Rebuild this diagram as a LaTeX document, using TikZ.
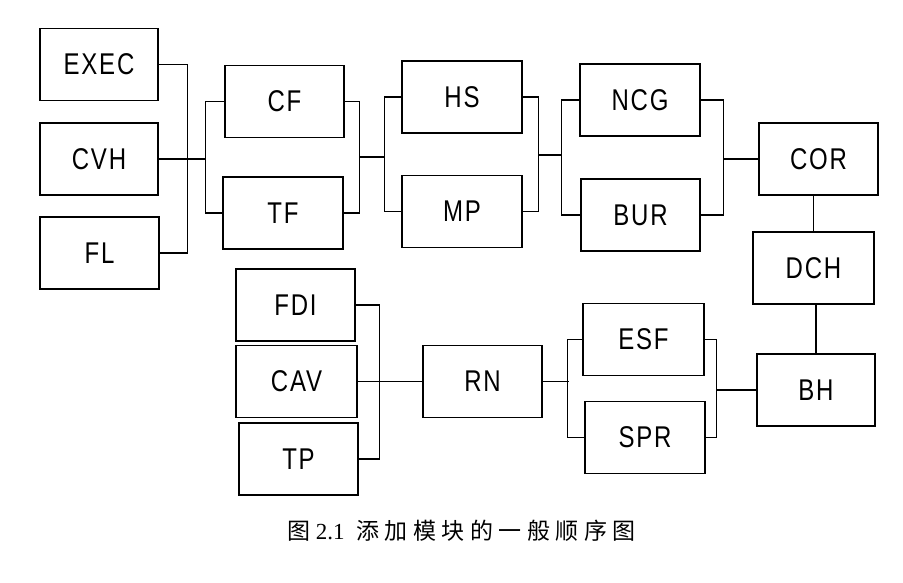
\documentclass[tikz,border=0pt]{standalone}
\usepackage{fontspec}
\usetikzlibrary{calc}
\newfontfamily\boxfont[FakeStretch=0.8,LetterSpace=6]{Liberation Sans}
\newfontfamily\cjk[LetterSpace=24]{Noto Sans CJK SC}
\newfontfamily\capnum{Liberation Serif}
\begin{document}
\begin{tikzpicture}[x=1pt,y=-1pt,
  blk/.style={draw,line width=1.1pt,minimum width=#1,minimum height=72pt,inner sep=0pt,
    font=\boxfont\fontsize{30}{30}\selectfont},
  blk/.default=120pt,
  wire/.style={line width=1.1pt}]
\useasboundingbox (0,0) rectangle (903,582);
% top row
\node[blk=118pt] (EXEC) at (99,64.5) {EXEC};
\node[blk=118pt] (CVH) at (99,159) {CVH};
\node[blk=119pt] (FL) at (99.5,253) {FL};
\node[blk=119pt] (CF) at (284.5,101.5) {CF};
\node[blk] (TF) at (283,213) {TF};
\node[blk] (HS) at (462,97) {HS};
\node[blk] (MP) at (462,211.5) {MP};
\node[blk] (NCG) at (640,100) {NCG};
\node[blk=119pt] (BUR) at (640.5,215) {BUR};
\node[blk=119pt] (COR) at (818.5,159) {COR};
\node[blk=121pt] (DCH) at (813.5,268) {DCH};
\node[blk=118pt] (BH) at (816,390) {BH};
% bottom row
\node[blk=119pt] (FDI) at (295.5,305) {FDI};
\node[blk=121pt] (CAV) at (296.5,381.5) {CAV};
\node[blk=119pt] (TP) at (298.5,459) {TP};
\node[blk=119pt] (RN) at (482.5,381.5) {RN};
\node[blk=121pt] (ESF) at (643.5,339.5) {ESF};
\node[blk] (SPR) at (645,437.5) {SPR};
% junction points
\coordinate (j1) at (206,159);
\coordinate (j2) at (359,157);
\coordinate (j3) at (385,157);
\coordinate (j4) at (538,155);
\coordinate (j5) at (562,155);
\coordinate (j6) at (723,159);
\coordinate (j7) at (379,381.5);
\coordinate (j8) at (569,381.5);
\coordinate (j9) at (716,390);
% connectors
\draw[wire] (EXEC.east) -- ++(29,0) |- (FL.east);
\draw[wire] (CVH.east) -- (j1);
\draw[wire] (CF.west) -- ++(-19,0) |- (TF.west);
\draw[wire] (CF.east) -- ++(15,0) |- (TF.east);
\draw[wire] (j2) -- (j3);
\draw[wire] (HS.west) -- ++(-17,0) |- (MP.west);
\draw[wire] (HS.east) -- ++(16,0) |- (MP.east);
\draw[wire] (j4) -- (j5);
\draw[wire] (NCG.west) -- ++(-18,0) |- (BUR.west);
\draw[wire] (NCG.east) -- ++(23,0) |- (BUR.east);
\draw[wire] (j6) -- (COR.west);
\draw[wire] (DCH.north) -- (DCH.north |- COR.south);
\draw[wire] (BH.north) -- (BH.north |- DCH.south);
\draw[wire] (FDI.east) -- ++(24,0) |- (TP.east);
\draw[wire] (CAV.east) -- (RN.west);
\draw[wire] (RN.east) -- (j8);
\draw[wire] (ESF.west) -- ++(-15,0) |- (SPR.west);
\draw[wire] (ESF.east) -- ++(12,0) |- (SPR.east);
\draw[wire] (j9) -- (BH.west);
% caption
\node[anchor=west,inner sep=0pt] (cap) at (287,531)
  {\fontsize{23}{23}\selectfont\cjk 图\capnum\ 2.1\ \ \cjk 添加模块的一般顺序图};
\end{tikzpicture}
\end{document}
